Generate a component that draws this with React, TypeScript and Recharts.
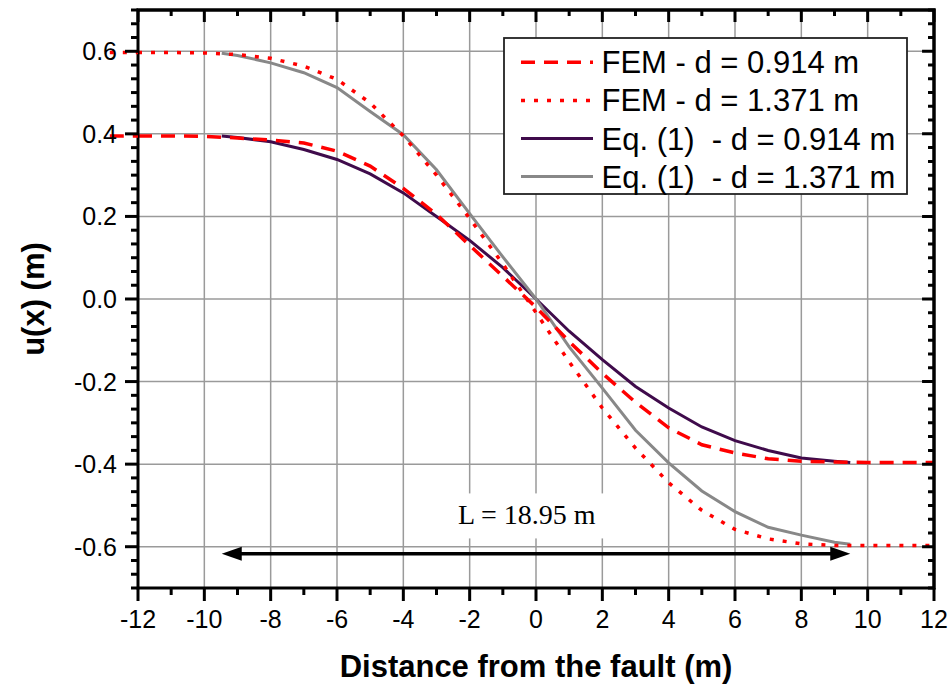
import React from 'react';
import {
  LineChart,
  Line,
  XAxis,
  YAxis,
  CartesianGrid,
  ReferenceLine,
  ReferenceDot,
  Legend,
} from 'recharts';

// ---------- data ----------
const xEq = [-9.475, -9, -8, -7, -6, -5, -4, -3, -2, -1, 0, 1, 2, 3, 4, 5, 6, 7, 8, 9, 9.475];
const eqD0914 = [0.395, 0.391, 0.381, 0.362, 0.338, 0.303, 0.257, 0.2, 0.142, 0.076, 0, -0.078, -0.147, -0.212, -0.264, -0.31, -0.343, -0.367, -0.385, -0.393, -0.396];
const eqD1371 = [0.595, 0.59, 0.572, 0.548, 0.512, 0.454, 0.398, 0.313, 0.207, 0.102, 0, -0.116, -0.216, -0.318, -0.397, -0.465, -0.515, -0.553, -0.572, -0.589, -0.594];

const xFem = [-12, -11, -10, -9, -8, -7, -6, -5, -4, -3, -2, -1, 0, 1, 2, 3, 4, 5, 6, 7, 8, 9, 10, 11, 12];
const femD0914 = [0.395, 0.395, 0.394, 0.39, 0.385, 0.378, 0.358, 0.322, 0.268, 0.205, 0.13, 0.055, -0.02, -0.103, -0.18, -0.25, -0.312, -0.353, -0.373, -0.387, -0.393, -0.395, -0.396, -0.396, -0.396];
const femD1371 = [0.597, 0.597, 0.596, 0.592, 0.583, 0.564, 0.532, 0.475, 0.395, 0.3, 0.195, 0.085, -0.033, -0.152, -0.264, -0.361, -0.445, -0.512, -0.558, -0.581, -0.593, -0.597, -0.597, -0.597, -0.597];
const femStartX = -12.85;

const seriesNames = ['FEM - d = 0.914 m', 'FEM - d = 1.371 m', 'Eq. (1)  - d = 0.914 m', 'Eq. (1)  - d = 1.371 m'];

const xDomain = [-12, 12];
const yDomain = [-0.7, 0.7];
const xTicks = [-12, -11, -10, -9, -8, -7, -6, -5, -4, -3, -2, -1, 0, 1, 2, 3, 4, 5, 6, 7, 8, 9, 10, 11, 12];
const xGrid = [-10, -8, -6, -4, -2, 0, 2, 4, 6, 8, 10];
const yGrid = [-0.6, -0.4, -0.2, 0, 0.2, 0.4, 0.6];
const yTicks = Array.from({ length: 43 }, (_, i) => (i - 21) / 30);

const spanHalf = 9.475;
const arrowY = -0.617;
const spanLabel = 'L = 18.95 m';
const spanLabelPos = { x: -0.28, y: -0.546 };

// inward tick lengths on the top / right frame edges, in axis units
const topTickLen = { major: 0.029, minor: 0.0145 };
const rightTickLen = { major: 0.36, minor: 0.18 };

// ---------- layout & styles ----------
const CHART_W = 950;
const CHART_H = 685;
const MARGIN = { top: 10, right: 16, bottom: 0, left: 0 };

const SANS = '"Liberation Sans", Arial, Helvetica, sans-serif';
const SERIF = '"Liberation Serif", "Times New Roman", serif';
const RED = '#ff0000';
const PURPLE = '#3f0b4b';
const GREY = '#888888';
const DASH = '14 9';
const DOT = '4 9';

const eqRows0914 = xEq.map((x, i) => ({ x, y: eqD0914[i] }));
const eqRows1371 = xEq.map((x, i) => ({ x, y: eqD1371[i] }));
const femRows0914 = xFem.map((x, i) => ({ x, y: femD0914[i] }));
const femRows1371 = xFem.map((x, i) => ({ x, y: femD1371[i] }));

const isMajorX = (v: number) => Math.round(v) % 2 === 0;
const isMajorY = (v: number) => Math.round(v * 30) % 6 === 0;

// plot frame as a closed polyline through the domain corners
const frameRows = [
  { x: xDomain[0], y: yDomain[0] },
  { x: xDomain[0], y: yDomain[1] },
  { x: xDomain[1], y: yDomain[1] },
  { x: xDomain[1], y: yDomain[0] },
  { x: xDomain[0], y: yDomain[0] },
];

// inward tick marks along the top edge and the right edge
const topTickRows = xTicks.flatMap((v) => {
  const len = isMajorX(v) ? topTickLen.major : topTickLen.minor;
  return [
    { x: v, y: yDomain[1] },
    { x: v, y: yDomain[1] - len },
    { x: v, y: yDomain[1] },
  ];
});
const rightTickRows = yTicks.flatMap((v) => {
  const len = isMajorY(v) ? rightTickLen.major : rightTickLen.minor;
  return [
    { x: xDomain[1], y: v },
    { x: xDomain[1] - len, y: v },
    { x: xDomain[1], y: v },
  ];
});

const BottomTick = (p: any) => {
  const v = p.payload.value;
  const major = isMajorX(v);
  return (
    <g>
      <line x1={p.x} x2={p.x} y1={p.y} y2={p.y + (major ? 13 : 7)} stroke="#000" strokeWidth={3} />
      {major && (
        <text x={p.x} y={p.y + 40} textAnchor="middle" fontSize={25} fontFamily={SANS} fill="#000">
          {String(v)}
        </text>
      )}
    </g>
  );
};

const LeftTick = (p: any) => {
  const v = p.payload.value;
  const major = isMajorY(v);
  const k = Math.round(v * 30);
  return (
    <g>
      <line x1={p.x - (major ? 13 : 7)} x2={p.x} y1={p.y} y2={p.y} stroke="#000" strokeWidth={3} />
      {major && Math.abs(k) < 21 && (
        <text x={p.x - 21} y={p.y + 9} textAnchor="end" fontSize={25} fontFamily={SANS} fill="#000">
          {(k / 30).toFixed(1)}
        </text>
      )}
    </g>
  );
};

const ArrowShape = (p: any) => {
  const left = Math.min(p.x1, p.x2);
  const right = Math.max(p.x1, p.x2);
  const y = p.y1;
  const hl = 20;
  const hw = 7;
  return (
    <g>
      <line x1={left + hl - 2} y1={y} x2={right - hl + 2} y2={y} stroke="#000" strokeWidth={3.5} />
      <polygon points={`${left},${y} ${left + hl},${y - hw} ${left + hl},${y + hw}`} fill="#000" />
      <polygon points={`${right},${y} ${right - hl},${y - hw} ${right - hl},${y + hw}`} fill="#000" />
    </g>
  );
};

const SpanLabel = (p: any) => (
  <g>
    <rect x={p.cx - 97} y={p.cy - 31} width={195} height={45} fill="#fff" />
    <text x={p.cx} y={p.cy} textAnchor="middle" fontSize={28} fontFamily={SERIF} fill="#000">
      {spanLabel}
    </text>
  </g>
);

const legendStyles = [
  { stroke: RED, dash: DASH, width: 3.5 },
  { stroke: RED, dash: DOT, width: 3.5 },
  { stroke: PURPLE, dash: undefined, width: 3 },
  { stroke: GREY, dash: undefined, width: 3 },
];

const LegendBox = () => (
  <svg width={405} height={158} style={{ display: 'block' }}>
    <rect x={1} y={1} width={403} height={156} fill="#fff" stroke="#222" strokeWidth={1.8} />
    {seriesNames.map((name, i) => {
      const ly = 25.3 + i * 38.1;
      const s = legendStyles[i];
      return (
        <g key={name}>
          <line x1={18} x2={90} y1={ly} y2={ly} stroke={s.stroke} strokeWidth={s.width} strokeDasharray={s.dash} />
          <text x={98.5} y={ly + 11} fontSize={31} fontFamily={SANS} fill="#000" style={{ whiteSpace: 'pre' }}>
            {name}
          </text>
        </g>
      );
    })}
  </svg>
);

export default function App() {
  return (
    <div style={{ position: 'absolute', left: 0, top: 0, width: CHART_W, height: CHART_H, background: '#fff' }}>
      <LineChart width={CHART_W} height={CHART_H} margin={MARGIN}>
        <CartesianGrid
          stroke="#9a9a9a"
          strokeWidth={1.5}
          horizontalValues={yGrid}
          verticalValues={xGrid}
        />
        <XAxis
          type="number"
          dataKey="x"
          domain={xDomain}
          ticks={xTicks}
          interval={0}
          tickSize={0}
          tickMargin={0}
          axisLine={false}
          tickLine={false}
          height={97}
          tick={(p: any) => <BottomTick {...p} />}
          label={{
            content: (lp: any) => {
              const vb = lp.viewBox;
              return (
                <text x={vb.x + vb.width / 2} y={vb.y + 89} textAnchor="middle" fontSize={31} fontWeight="bold" fontFamily={SANS} fill="#000">
                  Distance from the fault (m)
                </text>
              );
            },
          }}
        />
        <YAxis
          type="number"
          domain={yDomain}
          ticks={yTicks}
          interval={0}
          tickSize={0}
          tickMargin={0}
          axisLine={false}
          tickLine={false}
          width={138}
          tick={(p: any) => <LeftTick {...p} />}
          label={{
            content: (lp: any) => {
              const vb = lp.viewBox;
              const cy = vb.y + vb.height / 2;
              return (
                <text transform={`translate(${vb.x + 44},${cy}) rotate(-90)`} textAnchor="middle" fontSize={31} fontWeight="bold" fontFamily={SANS} fill="#000">
                  u(x) (m)
                </text>
              );
            },
          }}
        />
        <Line data={eqRows0914} dataKey="y" type="linear" stroke={PURPLE} strokeWidth={3} dot={false} activeDot={false} isAnimationActive={false} />
        <Line data={eqRows1371} dataKey="y" type="linear" stroke={GREY} strokeWidth={3} dot={false} activeDot={false} isAnimationActive={false} />
        <Line data={femRows0914} dataKey="y" type="linear" stroke={RED} strokeWidth={3.5} strokeDasharray={DASH} dot={false} activeDot={false} isAnimationActive={false} />
        <Line data={femRows1371} dataKey="y" type="linear" stroke={RED} strokeWidth={3.5} strokeDasharray={DOT} dot={false} activeDot={false} isAnimationActive={false} />
        <Line data={topTickRows} dataKey="y" type="linear" stroke="#000" strokeWidth={3} dot={false} activeDot={false} isAnimationActive={false} />
        <Line data={rightTickRows} dataKey="y" type="linear" stroke="#000" strokeWidth={3} dot={false} activeDot={false} isAnimationActive={false} />
        <Line data={frameRows} dataKey="y" type="linear" stroke="#000" strokeWidth={3} strokeLinecap="square" strokeLinejoin="miter" dot={false} activeDot={false} isAnimationActive={false} />
        <ReferenceLine
          ifOverflow="visible"
          segment={[{ x: femStartX, y: femD0914[0] }, { x: xFem[0], y: femD0914[0] }]}
          stroke={RED}
          strokeWidth={3.5}
          strokeDasharray={DASH}
        />
        <ReferenceLine
          ifOverflow="visible"
          segment={[{ x: femStartX, y: femD1371[0] }, { x: xFem[0], y: femD1371[0] }]}
          stroke={RED}
          strokeWidth={3.5}
          strokeDasharray={DOT}
        />
        <ReferenceDot x={spanLabelPos.x} y={spanLabelPos.y} r={0} ifOverflow="visible" shape={(p: any) => <SpanLabel {...p} />} />
        <ReferenceLine
          ifOverflow="visible"
          segment={[{ x: -spanHalf, y: arrowY }, { x: spanHalf, y: arrowY }]}
          shape={(p: any) => <ArrowShape {...p} />}
        />
        <Legend
          layout="vertical"
          align="center"
          verticalAlign="middle"
          wrapperStyle={{ position: 'absolute', left: 503, top: 37, width: 405, height: 158, margin: 0, padding: 0 }}
          content={() => <LegendBox />}
        />
      </LineChart>
    </div>
  );
}
